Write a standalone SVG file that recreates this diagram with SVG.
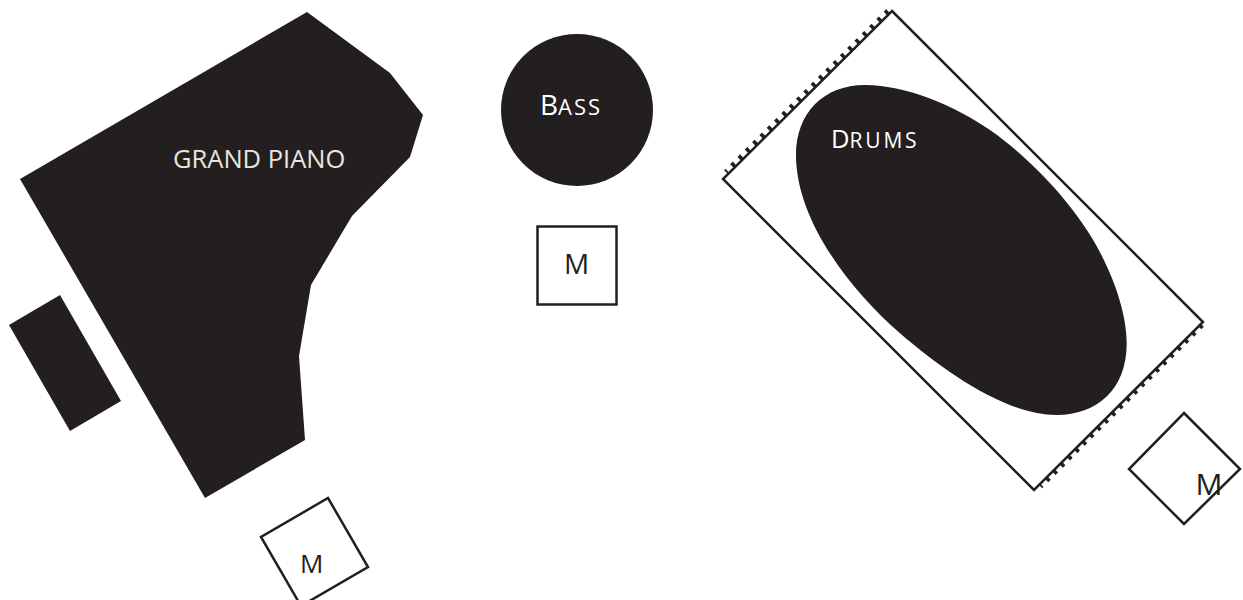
<svg xmlns="http://www.w3.org/2000/svg" width="1243" height="600" viewBox="0 0 1243 600">
<style>
.solid{fill:#231f20}
.box{fill:none;stroke:#231f20;stroke-width:2.5;stroke-linejoin:miter}
.tick{fill:none;stroke:#231f20;stroke-width:5;stroke-dasharray:3.6 6.7;stroke-dashoffset:1.8}
.lab{font-family:"Open Sans","Liberation Sans",sans-serif;fill:#fff}
.m{font-family:"Open Sans","Liberation Sans",sans-serif;fill:#231f20}
</style>
<rect width="1243" height="600" fill="#fff"/>
<g id="piano">
<polygon class="solid" points="307,12 390,73 423,115 410,157 352,216 311,285 299,356 305,440 205,498 20,179"/>
<polygon class="solid" points="60,295 121,401 70,431 9,325"/>
<text class="lab" x="173" y="167.5" font-size="25.5" style="fill:#e8e6dc">GRAND PIANO</text>
</g>
<g id="piano-mic">
<polygon class="box" points="328,498 368,567 301,606 261,537"/>
<text class="m" x="300" y="573" font-size="26">M</text>
</g>
<g id="bass">
<circle class="solid" cx="577" cy="110" r="76"/>
<text class="lab" x="540" y="114.5" font-size="28">B<tspan font-size="22" letter-spacing="2">ASS</tspan></text>
</g>
<g id="bass-mic">
<rect class="box" x="537.5" y="226.5" width="79" height="78"/>
<text class="m" x="564" y="274" font-size="28">M</text>
</g>
<g id="drums">
<line class="tick" x1="725.9" y1="171.9" x2="888.2" y2="10.7"/>
<line class="tick" x1="1040.5" y1="486.5" x2="1202.3" y2="324.8"/>
<polygon class="box" points="892,11 1203,322 1034,490 723,179"/>
<path class="solid" d="M865,85C906.7,85 956.7,106.7 990,130C1023.3,153.3 1056.7,186.7 1080,220C1106.7,256.7 1126.7,306.7 1126.7,343.3C1126.7,390 1096.7,415 1056.7,415C1006.7,415 946.7,373.3 900,333.3C850,290 796,220 796,155C796,113.3 823.3,85 865,85Z"/>
<text class="lab" x="831" y="147.5" font-size="25.5">D<tspan font-size="21" letter-spacing="2.8">RUMS</tspan></text>
</g>
<g id="drums-mic">
<polygon class="box" points="1184,413 1240,469 1184,524 1129,469"/>
<text class="m" x="1195.5" y="495" font-size="30">M</text>
</g>
</svg>
